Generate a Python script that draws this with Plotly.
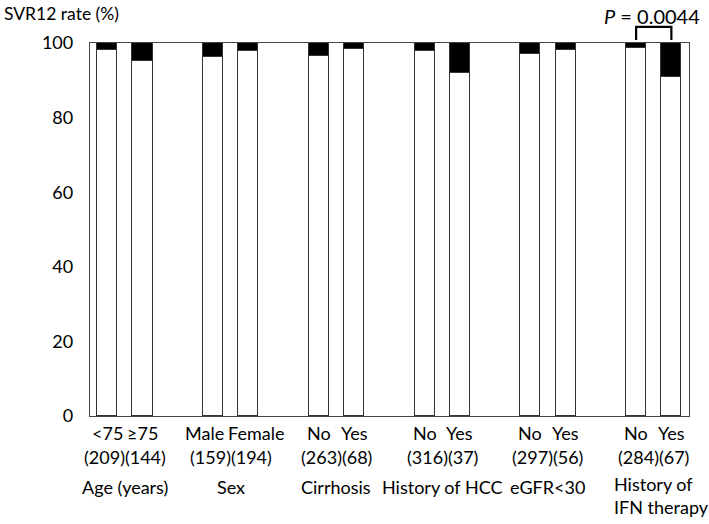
import plotly.graph_objects as go

# SVR12 rate by subgroup
groups = ["Age (years)", "Sex", "Cirrhosis", "History of HCC", "eGFR<30", "History of<br>IFN therapy"]
sublabels = [["<75", "≥75"], ["Male", "Female"], ["No", "Yes"], ["No", "Yes"], ["No", "Yes"], ["No", "Yes"]]
counts = [[209, 144], [159, 194], [263, 68], [316, 37], [297, 56], [284, 67]]
svr = [[98.1, 95.1], [96.2, 97.9], [96.6, 98.5], [97.8, 91.9], [97.0, 98.2], [98.6, 91.0]]
y_ticks = [0, 20, 40, 60, 80, 100]
p_text = "<i>P</i> = 0.0044"

FONT = "Lato"
# "Male" / "Female" are wider than the bar pitch, nudge them apart
nudge = {1: (-9, 8)}

x, yes_vals, no_vals = [], [], []
for g in range(len(groups)):
    for k in range(2):
        x.append(3 * g + k)
        yes_vals.append(svr[g][k])
        no_vals.append(100 - svr[g][k])

fig = go.Figure()
fig.add_trace(go.Bar(x=x, y=yes_vals, width=0.57, marker_color="white",
                     marker_line_color="#333333", marker_line_width=1.3))
fig.add_trace(go.Bar(x=x, y=no_vals, width=0.57, marker_color="black",
                     marker_line_color="#333333", marker_line_width=1.3))

ann = []
for g in range(len(groups)):
    for k in range(2):
        ann.append(dict(x=3 * g + k, y=0, xref="x", yref="paper", text=sublabels[g][k],
                        showarrow=False, yanchor="middle", yshift=-17,
                        xshift=nudge.get(g, (0, 0))[k]))
    # the two counts run together as one string under the pair
    ann.append(dict(x=3 * g + 0.5, y=0, xref="x", yref="paper",
                    text="(%d)(%d)" % (counts[g][0], counts[g][1]),
                    showarrow=False, yanchor="middle", yshift=-41))
    if "<br>" in groups[g]:
        ann.append(dict(x=3 * g + 0.5, y=0, xref="x", yref="paper", text=groups[g],
                        showarrow=False, xanchor="left", xshift=-42, align="left",
                        yanchor="middle", yshift=-79))
    else:
        ann.append(dict(x=3 * g + 0.5, y=0, xref="x", yref="paper", text=groups[g],
                        showarrow=False, yanchor="middle", yshift=-71))

ann.append(dict(x=0, y=1, xref="paper", yref="paper", text="SVR12 rate (%)",
                showarrow=False, xanchor="left", yanchor="middle", xshift=-88, yshift=30,
                font=dict(size=17.5)))
ann.append(dict(x=15.45, y=1, xref="x", yref="paper", text=p_text,
                showarrow=False, xanchor="center", yanchor="middle", yshift=27,
                font=dict(size=20)))

fig.update_layout(
    annotations=ann,
    shapes=[dict(type="path", xref="x", yref="paper",
                 path="M 15,1.008 L 15,1.043 L 16,1.043 L 16,1.008",
                 line=dict(color="black", width=2.2))],
    barmode="stack",
    bargap=0,
    showlegend=False,
    width=709, height=524,
    margin=dict(l=90, r=20, t=43, b=108),
    plot_bgcolor="white", paper_bgcolor="white",
    font=dict(family=FONT, size=18, color="black"),
    xaxis=dict(range=[-0.49, 16.5], showticklabels=False, showgrid=False, zeroline=False,
               showline=True, linecolor="#444444", linewidth=1.3, mirror=True, ticks=""),
    yaxis=dict(range=[0, 100], tickvals=y_ticks, showgrid=False, zeroline=False,
               showline=True, linecolor="#444444", linewidth=1.3, mirror=True, ticks="",
               ticklabelstandoff=12, tickfont=dict(size=18)),
)

# the page's default body margin would push the chart 8px off
fig.write_html("out.html", config={"displayModeBar": False},
               post_script="document.body.style.margin='0';")
